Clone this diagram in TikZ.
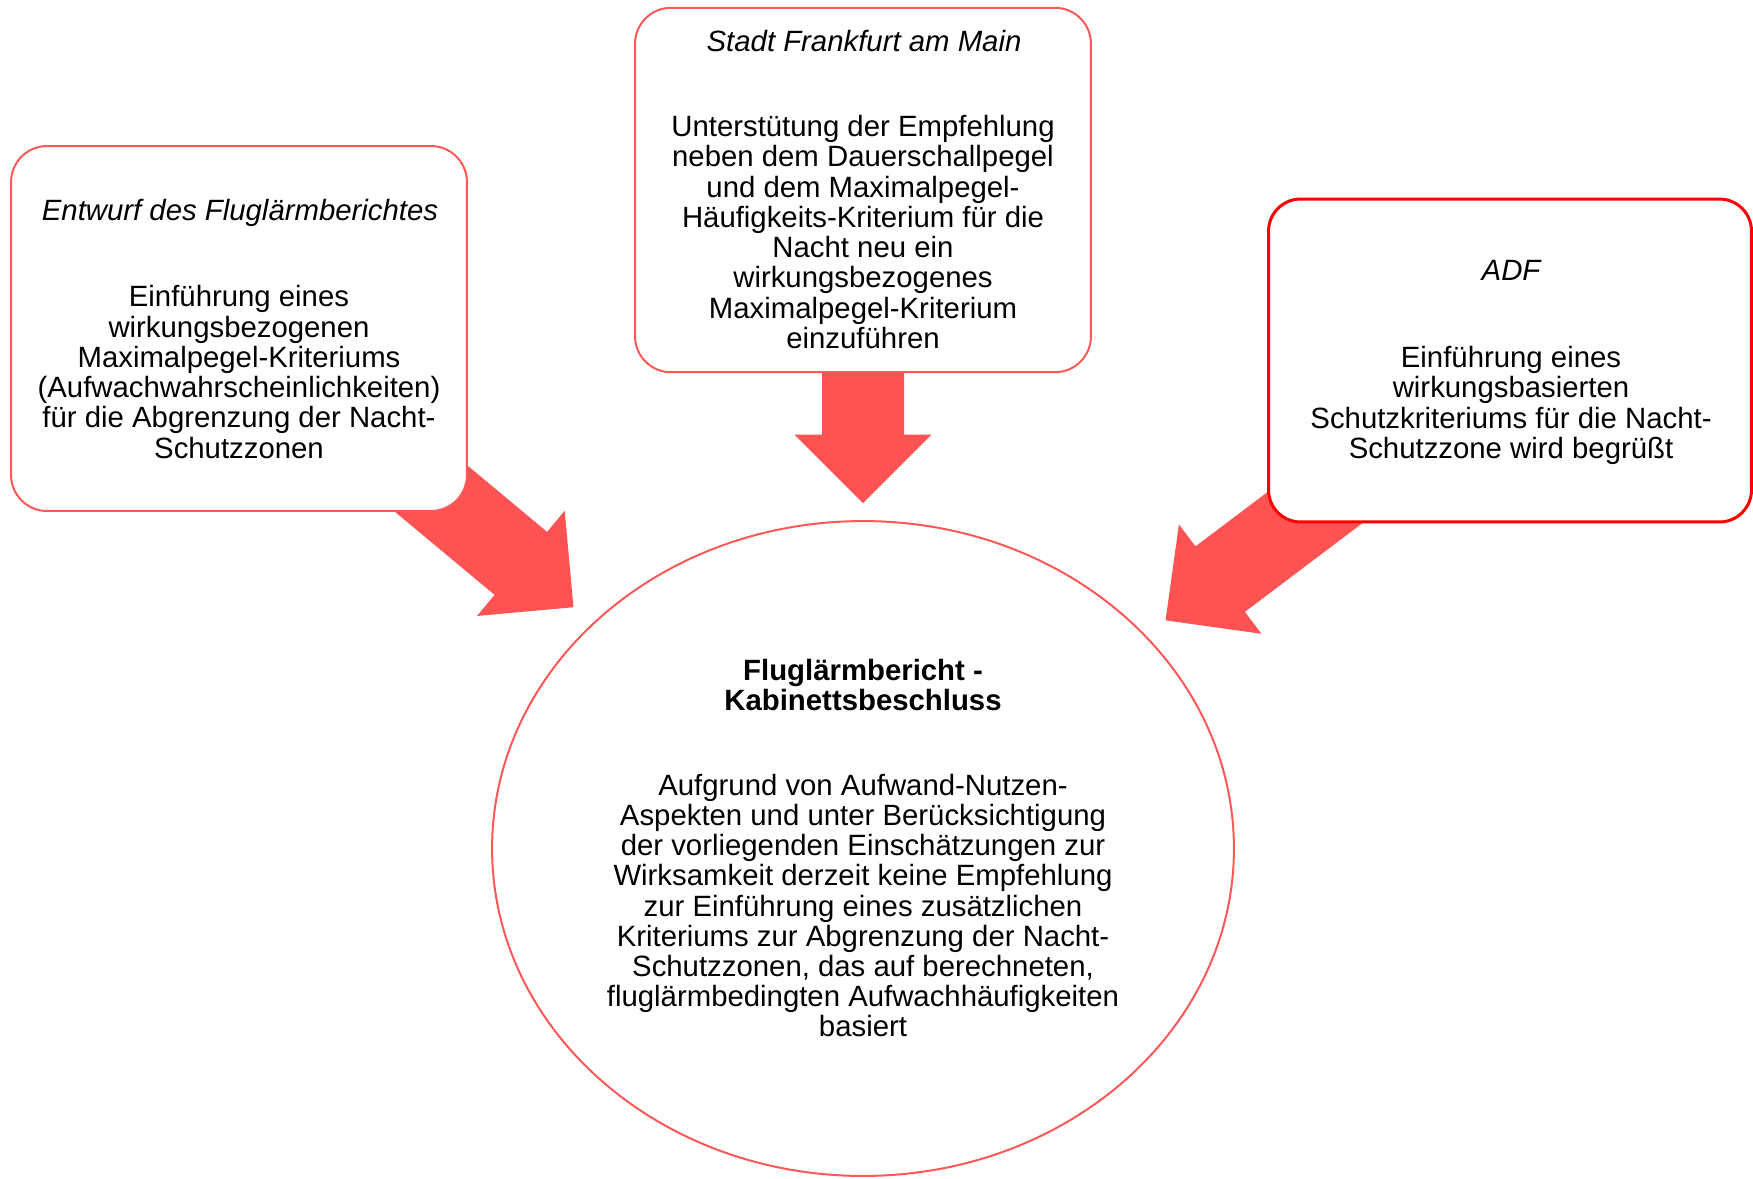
\documentclass[tikz,border=0pt]{standalone}
\usepackage{fontspec}
\setmainfont{Liberation Sans}
\usetikzlibrary{calc,shapes.geometric}

\definecolor{arrowred}{RGB}{255,82,82}
\definecolor{edgered}{RGB}{255,88,88}
\definecolor{adfred}{RGB}{255,0,0}

\pgfdeclarelayer{paper}
\pgfdeclarelayer{arrows}
\pgfsetlayers{paper,arrows,main}

\begin{document}
\begin{tikzpicture}[x=0.02cm,y=-0.02cm,
  card/.style={draw=edgered, line width=0.04cm, fill=white,
    rounded corners=0.72cm, inner sep=0pt, outer sep=0pt},
  label text/.style={font=\fontsize{16.7}{17.2}\selectfont, align=center,
    inner sep=0pt, text=black},
  heading/.style={label text, font=\fontsize{16.7}{17.2}\selectfont\itshape},
]
\useasboundingbox (0,0) rectangle (1753,1178);
\begin{pgfonlayer}{paper}
  \fill[white] (0,0) rectangle (1753,1178);
\end{pgfonlayer}

% central decision
\node[ellipse, draw=edgered, line width=0.04cm, fill=white, inner sep=0pt,
  minimum width=14.84cm, minimum height=13.1cm] (ell) at (863,848.5) {};

% the three statements
\node[card, minimum width=9.12cm, minimum height=7.3cm] (boxL) at (239,328.5) {};
\node[card, minimum width=9.12cm, minimum height=7.29cm] (boxT) at (863,190) {};
\node[card, draw=adfred, line width=0.06cm, rounded corners=0.64cm,
  minimum width=9.66cm, minimum height=6.46cm] (boxR) at (1510,360.5) {};

% texts
\node[heading] (titleL) at (240,213) {Entwurf des Fluglärmberichtes};
\node[label text] (bodyL) at (239,372) {Einführung eines\\wirkungsbezogenen\\Maximalpegel-Kriteriums\\(Aufwachwahrscheinlichkeiten)\\für die Abgrenzung der Nacht-\\Schutzzonen};

\node[heading] (titleT) at (864,41) {Stadt Frankfurt am Main};
\node[label text] (bodyT) at (863,232) {Unterstütung der Empfehlung\\neben dem Dauerschallpegel\\und dem Maximalpegel-\\Häufigkeits-Kriterium für die\\Nacht neu ein\\wirkungsbezogenes\\Maximalpegel-Kriterium\\einzuführen};

\node[heading] (titleR) at (1511,270.5) {ADF};
\node[label text] (bodyR) at (1511,405.5) {Einführung eines\\wirkungsbasierten\\Schutzkriteriums für die Nacht-\\Schutzzone wird begrüßt};

\node[label text, font=\fontsize{16.7}{17.2}\selectfont\bfseries] (titleE) at (863,685) {Fluglärmbericht -\\Kabinettsbeschluss};
\node[label text] (bodyE) at (863,905.6) {Aufgrund von Aufwand-Nutzen-\\Aspekten und unter Berücksichtigung\\der vorliegenden Einschätzungen zur\\Wirksamkeit derzeit keine Empfehlung\\zur Einführung eines zusätzlichen\\Kriteriums zur Abgrenzung der Nacht-\\Schutzzonen, das auf berechneten,\\fluglärmbedingten Aufwachhäufigkeiten\\basiert};

% block arrows from each statement towards the decision
\begin{pgfonlayer}{arrows}
\foreach \b/\d in {boxL/7.54cm, boxT/6.91cm, boxR/7.58cm} {
  \coordinate (tip-\b) at ($(ell.center)!\d!(\b.center)$);
  \coordinate (neck-\b) at ($(tip-\b)!1.37cm!(\b.center)$);
  \fill[arrowred] (tip-\b)
    -- ($(neck-\b)!1.37cm!90:(\b.center)$)
    -- ($(neck-\b)!0.82cm!90:(\b.center)$)
    -- ($(\b.center)!0.82cm!-90:(tip-\b)$)
    -- ($(\b.center)!0.82cm!90:(tip-\b)$)
    -- ($(neck-\b)!0.82cm!-90:(\b.center)$)
    -- ($(neck-\b)!1.37cm!-90:(\b.center)$)
    -- cycle;
}
\end{pgfonlayer}
\end{tikzpicture}
\end{document}
